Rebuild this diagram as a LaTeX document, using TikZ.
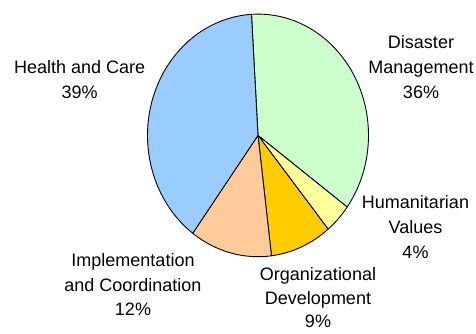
\documentclass[tikz,border=0pt]{standalone}
\usepackage{fontspec}
\setmainfont{Liberation Sans}
\usepackage{tikz}
\usetikzlibrary{positioning}
\definecolor{dmgreen}{HTML}{CCFFCC}
\definecolor{hvyellow}{HTML}{FFFF99}
\definecolor{odgold}{HTML}{FFCC00}
\definecolor{icpeach}{HTML}{FFCC99}
\definecolor{hcblue}{HTML}{99CCFF}
\tikzstyle{slice} = [
    draw=black, 
    line width=0.9pt, 
    line join=round
]
\tikzstyle{label_node} = [
    anchor=north, 
    align=center, 
    inner sep=0pt, 
    font={\fontsize{18}{25}\selectfont}
]
% one slice of the pie: colour, start angle, end angle
\newcommand{\pieslice}[3]{
    \path [slice, fill=#1] (pie) -- ++(#2:110.5 and 121.3)
        arc [start angle=#2, end angle=#3, x radius=110.5, y radius=121.3] -- cycle;
}
\begin{document}
\begin{tikzpicture}[x=1pt, y=1pt]
\useasboundingbox (0,0) rectangle (476,-333);
\coordinate (pie) at (258,-135.4);

\pieslice{dmgreen}{93.4}{-36.2}
\pieslice{hvyellow}{-36.2}{-50.6}
\pieslice{odgold}{-50.6}{-83.0}
\pieslice{icpeach}{-83.0}{-126.2}
\pieslice{hcblue}{-126.2}{-266.6}

\node [label_node] (health) at (79.7,-60) {Health and Care\\39\%};
\node [label_node] (disaster) at (421,-35) {Disaster\\Management\\36\%};
\node [label_node] (humanitarian) at (415.5,-195) {Humanitarian\\Values\\4\%};
\node [label_node, font={\fontsize{18}{23.5}\selectfont}] (organizational) at (318,-267.5) {Organizational\\Development\\9\%};
\node [label_node, font={\fontsize{18}{24.5}\selectfont}] (implementation) at (133,-253.3) {Implementation\\and Coordination\\12\%};
\end{tikzpicture}
\end{document}
